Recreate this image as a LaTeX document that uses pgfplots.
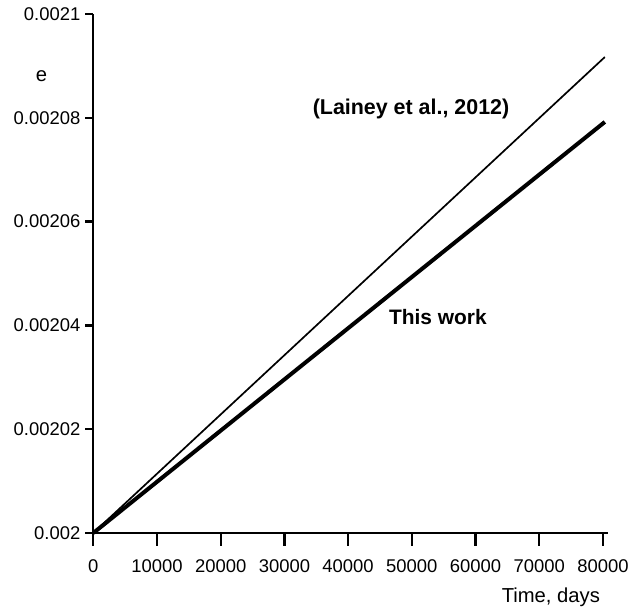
\documentclass[border=0pt]{standalone}
\usepackage{pgfplots}
\pgfplotsset{compat=1.18}
\usepackage{fontspec}
\setmainfont{Liberation Sans}
\begin{document}
\begin{tikzpicture}
\useasboundingbox (0,0) rectangle (629bp,612bp);
\pgfplotsset{
  base/.style={
    at={(93.3bp,79bp)}, anchor=south west,
    scale only axis, width=514.7bp, height=519bp,
    xmin=0, xmax=80800, ymin=0.002, ymax=0.0021,
    clip=false, tick align=outside,
    scaled x ticks=false, scaled y ticks=false,
    tick label style={font=\fontsize{18.5}{21}\selectfont},
    /pgf/number format/assume math mode=true,
    /pgf/number format/set thousands separator={},
    axis line style={line width=2.3bp},
    every tick/.style={line width=2.3bp, black},
  }
}
\begin{axis}[base,
  axis x line*=bottom, axis y line=none,
  major tick length=13bp,
  xtick={0,10000,20000,30000,40000,50000,60000,70000,80000},
  xticklabels={0,10000,20000,30000,40000,50000,60000,70000,80000},
  xticklabel style={yshift=-10bp},
]
\addplot[black, line width=1.7bp] coordinates {(0,0.002) (80300,0.0020917)};
\addplot[black, line width=4bp] coordinates {(0,0.002) (80300,0.0020792)};
\node[font=\fontsize{21.5}{24}\selectfont\bfseries] at (rel axis cs:0.6173,0.817) {(Lainey et al., 2012)};
\node[font=\fontsize{21}{24}\selectfont\bfseries] at (rel axis cs:0.6694,0.4162) {This work};
\node[font=\fontsize{20.3}{23}\selectfont] at (rel axis cs:0.889,-0.1233) {Time, days};
\node[font=\fontsize{20.3}{23}\selectfont] at (rel axis cs:-0.1006,0.8805) {e};
\end{axis}
\begin{axis}[base,
  axis y line*=left, axis x line=none,
  major tick length=8bp,
  ytick={0.002,0.00202,0.00204,0.00206,0.00208,0.0021},
  yticklabels={0.002,0.00202,0.00204,0.00206,0.00208,0.0021},
  yticklabel style={xshift=-1.5bp},
]
\end{axis}
\end{tikzpicture}
\end{document}
